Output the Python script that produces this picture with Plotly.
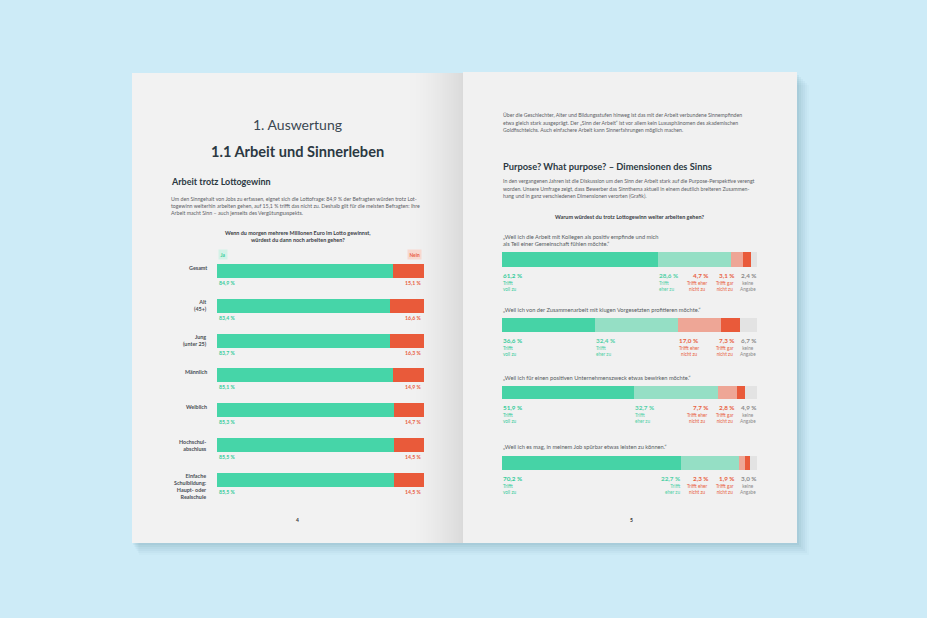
import plotly.graph_objects as go

W, H = 927, 618
FONT = "Lato, 'Noto Sans', sans-serif"

# ---------------- data ----------------
left_categories = ["Gesamt", "Alt<br>(45+)", "Jung<br>(unter 25)", "Männlich", "Weiblich",
                   "Hochschul-<br>abschluss", "Einfache<br>Schulbildung:<br>Haupt- oder<br>Realschule"]
ja_values = [84.9, 83.4, 83.7, 85.1, 85.3, 85.5, 85.5]
nein_values = [15.1, 16.6, 16.3, 14.9, 14.7, 14.5, 14.5]

questions = [
    "„Weil ich die Arbeit mit Kollegen als positiv empfinde und mich<br>als Teil einer Gemeinschaft fühlen möchte.“",
    "„Weil ich von der Zusammenarbeit mit klugen Vorgesetzten profitieren möchte.“",
    "„Weil ich für einen positiven Unternehmenszweck etwas bewirken möchte.“",
    "„Weil ich es mag, in meinem Job spürbar etwas leisten zu können.“",
]
segment_names = ["Trifft<br>voll zu", "Trifft<br>eher zu", "Trifft eher<br>nicht zu",
                 "Trifft gar<br>nicht zu", "keine<br>Angabe"]
q_values = [
    [61.2, 28.6, 4.7, 3.1, 2.4],
    [36.6, 32.4, 17.0, 7.3, 6.7],
    [51.9, 32.7, 7.7, 2.8, 4.9],
    [70.2, 22.7, 2.3, 1.9, 3.0],
]

# ---------------- style ----------------
GREEN = "#46d5a8"
RED = "#e95a3a"
SEG_COLORS = ["#46d3a6", "#95dfc5", "#eea696", "#e95a3a", "#e3e3e3"]
SEG_TEXT = ["#36cc9b", "#4fd0a6", "#e8603f", "#e8603f", "#8a8a8a"]
DARK = "#2c3942"
TEXT = "#5a6066"


def X(px):
    return px / W


def Y(py):
    return 1 - py / H


def fmt(v):
    return f"{v:.1f}".replace(".", ",") + " %"


fig = go.Figure()
shapes = []
ann = []


def rect(x0, y0, x1, y1, fill, layer="below"):
    shapes.append(dict(type="rect", xref="paper", yref="paper", x0=X(x0), x1=X(x1),
                       y0=Y(y1), y1=Y(y0), fillcolor=fill, line=dict(width=0), layer=layer))


def text(x, y, s, size, color=TEXT, bold=False, xanchor="left", yanchor="middle"):
    ann.append(dict(x=X(x), y=Y(y), xref="paper", yref="paper", text=s, showarrow=False,
                    xanchor=xanchor, yanchor=yanchor, align="center" if xanchor == "center" else xanchor,
                    font=dict(family=FONT, size=size, color=color, weight=700 if bold else 400),
                    borderpad=0))


# ---------------- pages ----------------
for i, a in enumerate([0.05, 0.05, 0.04, 0.04, 0.03, 0.02]):
    d = 2 + i * 2
    rect(132 + d * 0.6, 73 + d, 797 + d, 543 + d, f"rgba(40,90,120,{a})")
rect(132, 73, 463, 543, "#f2f2f2")
rect(463, 72, 797, 543, "#f1f1f1")
# smooth spine shading on left page
N = 24
for i in range(N):
    t = i / (N - 1)
    x0 = 410 + (462 - 410) * (t ** 0.7)
    rect(x0, 73, 463, 543, "rgba(0,0,0,0.0042)")
# soft highlight on right page near spine
for i in range(N):
    t = i / (N - 1)
    x1 = 464 + (540 - 464) * (1 - t) ** 1.3
    rect(463, 72, x1, 543, "rgba(255,255,255,0.03)")

# ---------------- left chart ----------------
L_X0, L_X1 = 217, 424
L_TOP, L_STEP = 271, 34.83
n = len(left_categories)
dom_top = L_TOP - L_STEP / 2
dom_bot = L_TOP + L_STEP * (n - 1) + L_STEP / 2

fig.add_trace(go.Bar(y=left_categories, x=ja_values, orientation="h", name="Ja",
                     marker=dict(color=GREEN, line=dict(width=0)), xaxis="x", yaxis="y", hoverinfo="skip"))
fig.add_trace(go.Bar(y=left_categories, x=nein_values, orientation="h", name="Nein",
                     marker=dict(color=RED, line=dict(width=0)), xaxis="x", yaxis="y", hoverinfo="skip"))

for cat, ja, nein in zip(left_categories, ja_values, nein_values):
    ann.append(dict(x=0, y=cat, xref="x", yref="y", text=fmt(ja), showarrow=False, xanchor="left",
                    yanchor="middle", yshift=-12, font=dict(family=FONT, size=5.2, color=SEG_TEXT[0], weight=700)))
    ann.append(dict(x=100, y=cat, xref="x", yref="y", text=fmt(nein), showarrow=False, xanchor="right",
                    yanchor="middle", yshift=-12, font=dict(family=FONT, size=5.2, color=SEG_TEXT[2], weight=700)))
    ann.append(dict(x=X(208), y=cat, xref="paper", yref="y", text=cat, showarrow=False, xanchor="right",
                    yanchor="top", align="right", yshift=7.5, borderpad=0,
                    font=dict(family=FONT, size=5.4, color="#4a4f55", weight=700)))

# ---------------- right charts ----------------
R_X0, R_X1 = 502, 757
bar_px = [(252, 267), (318, 332), (386, 399), (456, 470)]
q_title_y = [236, 309, 377, 446]

layout_axes = {}
for qi, (vals, (b0, b1)) in enumerate(zip(q_values, bar_px)):
    k = qi + 2
    for si, v in enumerate(vals):
        fig.add_trace(go.Bar(y=[0], x=[v], orientation="h", width=1, showlegend=False,
                             marker=dict(color=SEG_COLORS[si], line=dict(width=0)),
                             xaxis=f"x{k}", yaxis=f"y{k}", hoverinfo="skip"))
    layout_axes[f"xaxis{k}"] = dict(domain=[X(R_X0), X(R_X1)], range=[0, 100], visible=False,
                                    anchor=f"y{k}", fixedrange=True)
    layout_axes[f"yaxis{k}"] = dict(domain=[Y(b1), Y(b0)], range=[-0.5, 0.5], visible=False,
                                    anchor=f"x{k}", fixedrange=True)
    cum = [sum(vals[:i]) for i in range(len(vals))]
    for si, v in enumerate(vals):
        if si == 0:
            pos, anchor = 0, "left"
        elif si == 1:
            pos, anchor = (cum[1], "left") if cum[1] <= 65 else (cum[1], "right")
        elif si == 2:
            pos, anchor = (cum[2], "left") if cum[2] <= 72 else (81.2, "right")
        elif si == 3:
            pos, anchor = 91.4, "right"
        else:
            pos, anchor = 100, "right"
        xp = R_X0 + (R_X1 - R_X0) * pos / 100
        ann.append(dict(x=X(xp), y=Y(b1 + 8), xref="paper", yref="paper", text=fmt(v), showarrow=False,
                        xanchor=anchor, yanchor="middle", borderpad=0,
                        font=dict(family=FONT, size=6.3, color=SEG_TEXT[si], weight=700)))
        ann.append(dict(x=X(xp), y=Y(b1 + 19), xref="paper", yref="paper", text=segment_names[si],
                        showarrow=False, xanchor=anchor, yanchor="middle", borderpad=0,
                        align="center" if si >= 2 else anchor,
                        font=dict(family=FONT, size=4.7, color=SEG_TEXT[si] if si < 4 else "#8a8a8a")))
    two = "<br>" in questions[qi]
    ann.append(dict(x=X(R_X0), y=Y(q_title_y[qi]), xref="paper", yref="paper", text=questions[qi],
                    showarrow=False, xanchor="left", yanchor="top" if two else "middle",
                    align="left", borderpad=0, yshift=3.7 if two else 0,
                    font=dict(family=FONT, size=5.7, color="#555b60")))

# ---------------- page texts ----------------
text(297.5, 124, "1. Auswertung", 14, color="#3b4852", xanchor="center")
text(297.5, 152, "1.1 Arbeit und Sinnerleben", 14.6, color=DARK, bold=True, xanchor="center")
text(170, 181, "Arbeit trotz Lottogewinn", 9.0, color=DARK, bold=True)
for y, s in zip([198.7, 206, 213.3], [
    "Um den Sinngehalt von Jobs zu erfassen, eignet sich die Lottofrage: 84,9 % der Befragten würden trotz Lot-",
    "togewinn weiterhin arbeiten gehen, auf 15,1 % trifft das nicht zu. Deshalb gilt für die meisten Befragten: Ihre",
    "Arbeit macht Sinn – auch jenseits des Vergütungsaspekts."]):
    text(170, y, s, 5.25, color="#5d6166")
text(297.5, 233, "Wenn du morgen mehrere Millionen Euro im Lotto gewinnst,", 5.45, color="#3b4046", bold=True, xanchor="center")
text(297.5, 240, "würdest du dann noch arbeiten gehen?", 5.45, color="#3b4046", bold=True, xanchor="center")
ann.append(dict(x=X(223), y=Y(254), xref="paper", yref="paper", text="Ja", showarrow=False,
                xanchor="center", yanchor="middle", bgcolor="#d3f2e7", borderpad=1.5,
                font=dict(family=FONT, size=4.8, color=SEG_TEXT[0], weight=700)))
ann.append(dict(x=X(414.5), y=Y(254), xref="paper", yref="paper", text="Nein", showarrow=False,
                xanchor="center", yanchor="middle", bgcolor="#f8d8cf", borderpad=1.5,
                font=dict(family=FONT, size=4.8, color=SEG_TEXT[2], weight=700)))
text(297, 520, "4", 5, color="#333", bold=True, xanchor="center")

for y, s in zip([115, 122.8, 130.3], [
    "Über die Geschlechter, Alter und Bildungsstufen hinweg ist das mit der Arbeit verbundene Sinnempfinden",
    "etwa gleich stark ausgeprägt. Der „Sinn der Arbeit“ ist vor allem kein Luxusphänomen des akademischen",
    "Goldfischteichs. Auch einfachere Arbeit kann Sinnerfahrungen möglich machen."]):
    text(502, y, s, 5.2, color="#5d6166")
text(502, 166, "Purpose? What purpose? – Dimensionen des Sinns", 9.3, color=DARK, bold=True)
for y, s in zip([181, 188.5, 196], [
    "In den vergangenen Jahren ist die Diskussion um den Sinn der Arbeit stark auf die Purpose-Perspektive verengt",
    "worden. Unsere Umfrage zeigt, dass Bewerber das Sinnthema aktuell in einem deutlich breiteren Zusammen-",
    "hang und in ganz verschiedenen Dimensionen verorten (Grafik)."]):
    text(502, y, s, 5.2, color="#5d6166")
text(629.5, 217, "Warum würdest du trotz Lottogewinn weiter arbeiten gehen?", 5.5, color="#3b4046", bold=True, xanchor="center")
text(631, 520, "5", 5, color="#333", bold=True, xanchor="center")

fig.update_layout(
    width=W, height=H, margin=dict(l=0, r=0, t=0, b=0),
    paper_bgcolor="#cdebf7", plot_bgcolor="rgba(0,0,0,0)",
    barmode="stack", bargap=0.598, showlegend=False,
    xaxis=dict(domain=[X(L_X0), X(L_X1)], range=[0, 100], visible=False, anchor="y", fixedrange=True),
    yaxis=dict(domain=[Y(dom_bot), Y(dom_top)], categoryorder="array", categoryarray=left_categories,
               autorange="reversed", visible=False, anchor="x", fixedrange=True),
    shapes=shapes, annotations=ann, font=dict(family=FONT),
    **layout_axes,
)

fig.write_html("out.html", config={"displayModeBar": False},
               post_script="document.body.style.margin='0';document.body.style.background='#cdebf7';")
